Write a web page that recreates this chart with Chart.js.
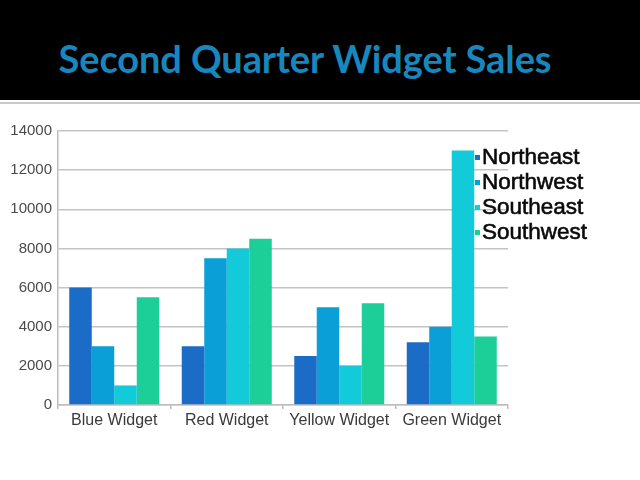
<!DOCTYPE html>
<html>
<head>
<meta charset="utf-8">
<script src="https://cdn.jsdelivr.net/npm/chart.js@4/dist/chart.umd.min.js"></script>
<style>
  html, body { margin: 0; padding: 0; background: #ffffff; }
  #page { position: relative; width: 640px; height: 480px; overflow: hidden; background: #fff; }
  #header { position: absolute; left: 0; top: 0; width: 640px; height: 100px; background: #000; }
  #sep { position: absolute; left: 0; top: 102px; width: 640px; height: 2px; background: #c9c9c9; }
  #title { position: absolute; left: 0; top: 0; width: 610px; height: 100px; line-height: 116px;
           text-align: center; color: #1787be; font-family: Lato, "Open Sans", sans-serif;
           font-weight: bold; font-size: 38px; letter-spacing: -0.1px; white-space: nowrap; }
  #c { position: absolute; left: 0; top: 0; }
</style>
</head>
<body>
<div id="page">
  <div id="header"><div id="title">Second Quarter Widget Sales</div></div>
  <div id="sep"></div>
  <canvas id="c" width="640" height="480"></canvas>
</div>
<script>
const categories = ["Blue Widget", "Red Widget", "Yellow Widget", "Green Widget"];
const seriesNames = ["Northeast", "Northwest", "Southeast", "Southwest"];
const northeast = [6000, 3000, 2500, 3200];
const northwest = [3000, 7500, 5000, 4000];
const southeast = [1000, 8000, 2000, 13000];
const southwest = [5500, 8500, 5200, 3500];
const yTicks = [0, 2000, 4000, 6000, 8000, 10000, 12000, 14000];
const colors = ["#1a6cc6", "#0a9fd6", "#12cad8", "#1ccf98"];

const seriesValues = [northeast, northwest, southeast, southwest];

const legendPlugin = {
  id: 'overlayLegend',
  afterDraw(chart) {
    const ctx = chart.ctx;
    ctx.save();
    ctx.font = '22.5px "Liberation Sans", Arial, sans-serif';
    ctx.textBaseline = 'middle';
    ctx.textAlign = 'left';
    chart.data.datasets.forEach((ds, i) => {
      const y = 158 + i * 25;
      ctx.fillStyle = ds.backgroundColor;
      ctx.fillRect(475, y - 3, 5, 5);
      ctx.fillStyle = '#0a0a0a';
      ctx.strokeStyle = '#0a0a0a';
      ctx.lineWidth = 0.6;
      ctx.fillText(ds.label, 482, y);
      ctx.strokeText(ds.label, 482, y);
    });
    ctx.restore();
  }
};

new Chart(document.getElementById('c'), {
  type: 'bar',
  data: {
    labels: categories,
    datasets: seriesNames.map((name, i) => ({
      label: name,
      data: seriesValues[i],
      backgroundColor: colors[i],
      borderWidth: 0,
      categoryPercentage: 0.8,
      barPercentage: 1.0
    }))
  },
  options: {
    responsive: false,
    animation: false,
    devicePixelRatio: 1,
    layout: { padding: { left: 0, top: 131, right: 132, bottom: 45 } },
    plugins: { legend: { display: false }, title: { display: false }, tooltip: { enabled: false } },
    scales: {
      x: {
        grid: { offset: true, drawOnChartArea: false, drawTicks: true, tickLength: 4, color: '#bdbdbd', lineWidth: 1.5 },
        border: { color: '#bdbdbd', width: 1.5 },
        ticks: { color: '#3a3a3a', font: { family: '"Liberation Sans", Arial, sans-serif', size: 16 }, padding: 2 },
        afterFit(scale) { scale.height = 30; }
      },
      y: {
        min: 0, max: 14000,
        afterBuildTicks(scale) { scale.ticks = yTicks.map(v => ({ value: v })); },
        grid: { color: '#c4c4c4', lineWidth: 1.5, drawTicks: false },
        border: { color: '#bdbdbd', width: 1.5 },
        ticks: { color: '#4a4a4a', font: { family: '"Liberation Sans", Arial, sans-serif', size: 15 }, padding: 6,
                 callback: (v) => String(v) },
        afterFit(scale) { scale.width = 58; }
      }
    }
  },
  plugins: [legendPlugin]
});
</script>
</body>
</html>
